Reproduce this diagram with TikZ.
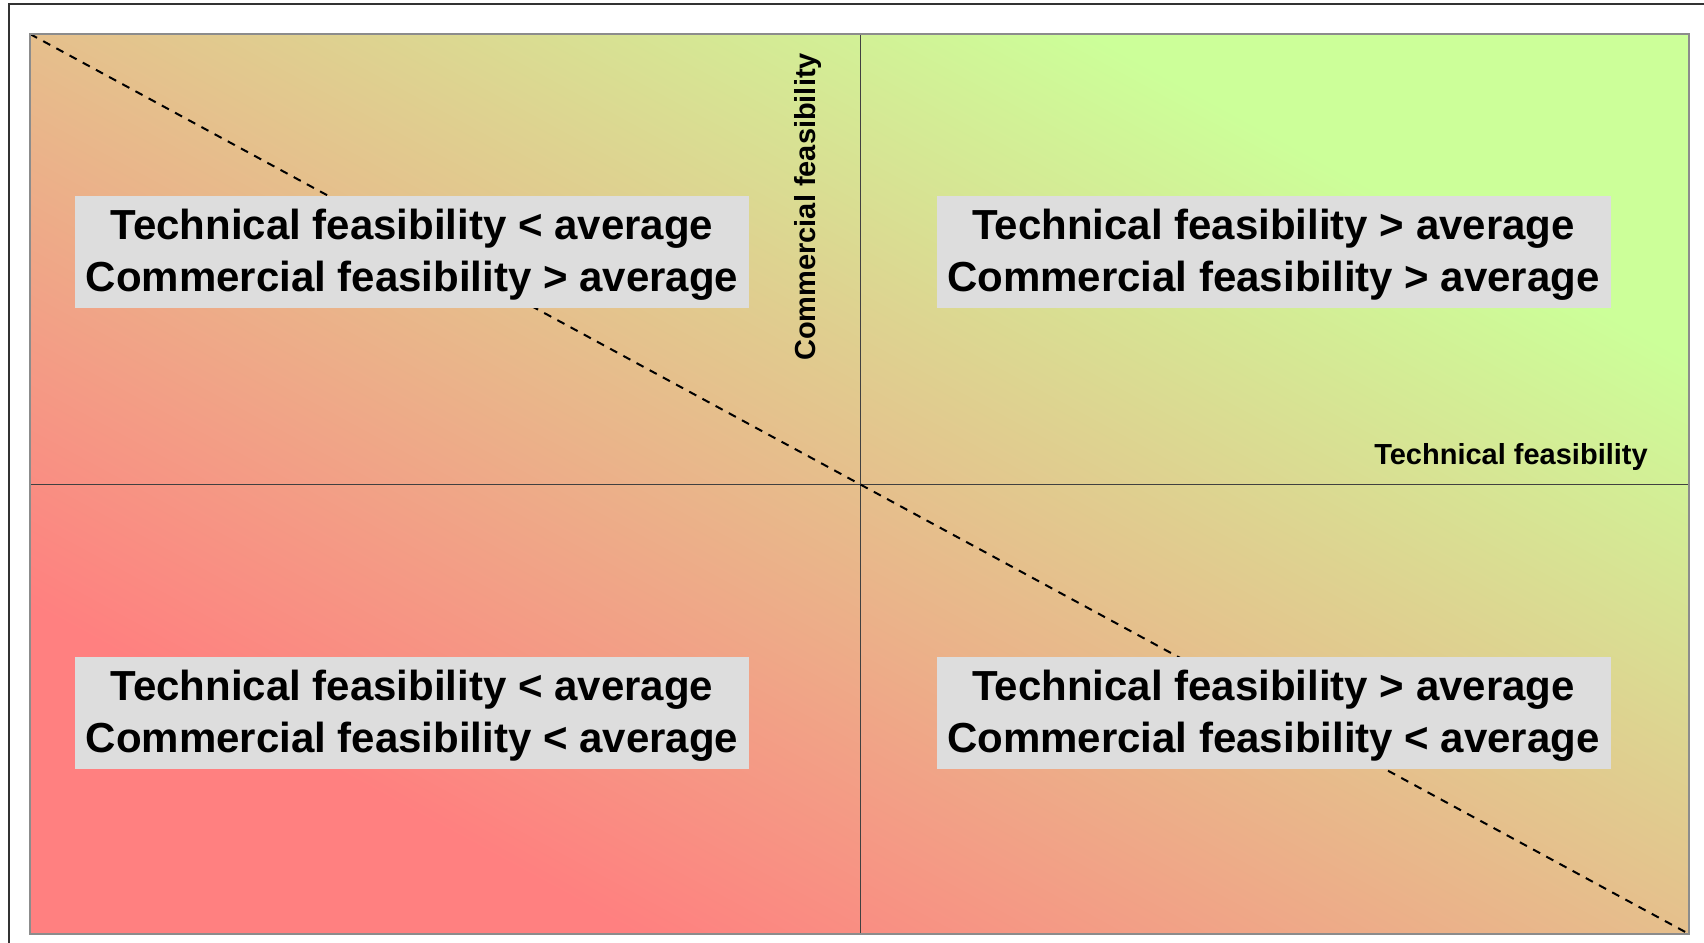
\documentclass[tikz,border=0pt]{standalone}
\usepackage{fontspec}
\setmainfont{Liberation Sans}
\definecolor{boxgray}{HTML}{DDDDDD}
\definecolor{rimgray}{HTML}{8C8C8C}
\definecolor{axisgray}{HTML}{404040}
\definecolor{framegray}{HTML}{333333}
\pgfdeclarefunctionalshading{redgreen}{\pgfpointorigin}{\pgfpoint{100bp}{100bp}}{}{add 50 sub 100 div 0.18 sub 0.64 div dup abs exch 1 sub abs sub 1 add 2 div dup -0.2 mul 1 add exch dup 0.5 mul 0.5 add exch 0.1 mul 0.5 add}
\newcommand{\firstlinestrut}{\rule{0pt}{18pt}}
\begin{document}
\begin{tikzpicture}[x=0.5pt,y=-0.5pt,
  quadbox/.style={fill=boxgray, minimum width=337pt, minimum height=56pt, inner sep=0pt, align=center, font=\fontsize{21}{26}\selectfont\bfseries},
  axislabel/.style={font=\fontsize{14.5}{17}\selectfont\bfseries, inner sep=0pt},
  axisline/.style={draw=axisgray, line width=0.5pt},
  diag/.style={line width=1pt, dash pattern=on 4pt off 3.5pt},
  rim/.style={draw=rimgray, line width=1pt},
  framestyle/.style={draw=framegray, line width=1pt}]
\useasboundingbox (0,0) rectangle (1704,943);
\coordinate (tl) at (30,34);
\coordinate (br) at (1689,934);
\coordinate (mt) at (860,34);
\coordinate (mb) at (860,934);
\coordinate (ml) at (30,484);
\coordinate (mr) at (1689,484);
\coordinate (f1) at (9,943);
\coordinate (f2) at (9,4);
\coordinate (f3) at (1704,4);
\shade[shading=redgreen] (tl) rectangle (br);
\draw[axisline] (mt) -- (mb);
\draw[axisline] (ml) -- (mr);
\draw[diag] (tl) -- (br);
\draw[rim] (tl) rectangle (br);
\draw[framestyle] (f1) -- (f2) -- (f3);
\node[quadbox] (qtl) at (412,252) {\firstlinestrut Technical feasibility < average\\Commercial feasibility > average};
\node[quadbox] (qtr) at (1273.5,252) {\firstlinestrut Technical feasibility > average\\Commercial feasibility > average};
\node[quadbox] (qbl) at (412,712.5) {\firstlinestrut Technical feasibility < average\\Commercial feasibility < average};
\node[quadbox] (qbr) at (1273.5,712.5) {\firstlinestrut Technical feasibility > average\\Commercial feasibility < average};
\node[axislabel, rotate=90, anchor=base] (cf) at (815,207) {Commercial feasibility};
\node[axislabel, anchor=base] (tf) at (1511,464) {Technical feasibility};
\end{tikzpicture}
\end{document}
